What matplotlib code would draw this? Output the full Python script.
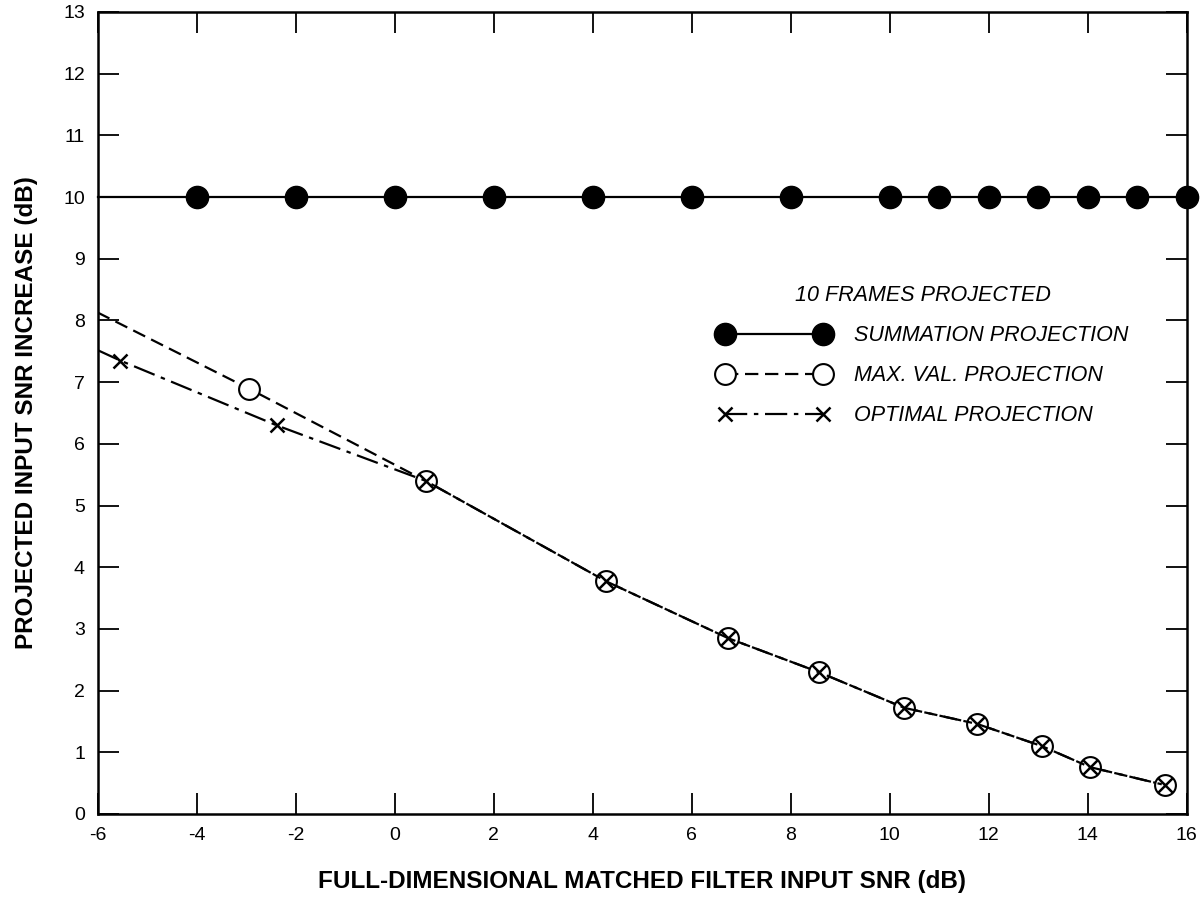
import numpy as np
import matplotlib.pyplot as plt

plt.rcParams['font.family'] = ['Liberation Sans', 'DejaVu Sans']
plt.rcParams['axes.unicode_minus'] = False

# summation projection (flat at 10 dB)
sum_x = [-6, -4, -2, 0, 2, 4, 6, 8, 10, 11, 12, 13, 14, 15, 16]
sum_y = [10, 10, 10, 10, 10, 10, 10, 10, 10, 10, 10, 10, 10, 10, 10]

# max value projection
max_x = [-6.0, -2.93, 0.63, 4.28, 6.74, 8.57, 10.30, 11.77, 13.08, 14.05, 15.56]
max_y = [8.13, 6.89, 5.40, 3.77, 2.85, 2.30, 1.72, 1.46, 1.10, 0.76, 0.47]

# optimal projection
opt_x = [-6.0, -5.54, -2.38, 0.63, 4.28, 6.74, 8.57, 10.30, 11.77, 13.08, 14.05, 15.56]
opt_y = [7.52, 7.35, 6.30, 5.40, 3.77, 2.85, 2.30, 1.72, 1.46, 1.10, 0.76, 0.47]

fig = plt.figure(figsize=(12.02, 8.98), dpi=100)
ax = fig.add_axes([97.5 / 1202, 1 - 814 / 898, 1089 / 1202, 802 / 898])

ax.plot(sum_x, sum_y, color='black', lw=1.6, marker='o', markersize=16,
        markerfacecolor='black', markevery=list(range(1, len(sum_x))),
        label='SUMMATION PROJECTION', clip_on=False)
ax.plot(max_x, max_y, color='black', lw=1.6, ls=(0, (6, 3)), marker='o', markersize=15,
        markerfacecolor='white', markeredgewidth=1.5, markevery=list(range(1, len(max_x))),
        label='MAX. VAL. PROJECTION')
ax.plot(opt_x, opt_y, color='black', lw=1.6, ls=(0, (10, 3, 2, 3)), marker='x', markersize=10,
        markeredgewidth=1.8, markevery=list(range(1, len(opt_x))), label='OPTIMAL PROJECTION')

ax.set_xlim(-6, 16)
ax.set_ylim(0, 13)
ax.set_xticks(np.arange(-6, 17, 2))
ax.set_yticks(np.arange(0, 14, 1))
ax.tick_params(direction='in', length=15, width=1.3, top=True, right=True,
               labelsize=14, pad=9)
for s in ax.spines.values():
    s.set_linewidth(1.8)

ax.set_xlabel('FULL-DIMENSIONAL MATCHED FILTER INPUT SNR (dB)', fontsize=17.5,
              fontweight='bold', labelpad=19)
ax.set_ylabel('PROJECTED INPUT SNR INCREASE (dB)', fontsize=17.5,
              fontweight='bold', labelpad=18)

leg = ax.legend(loc='upper left', bbox_to_anchor=(0.560, 0.6725), frameon=False,
                borderpad=0, numpoints=2, handlelength=5.19, handletextpad=1.1,
                labelspacing=0.88, prop={'style': 'italic', 'size': 15.5},
                title='10 FRAMES PROJECTED',
                title_fontproperties={'style': 'italic', 'size': 15.5})

fig.savefig('out.png', dpi=100)
